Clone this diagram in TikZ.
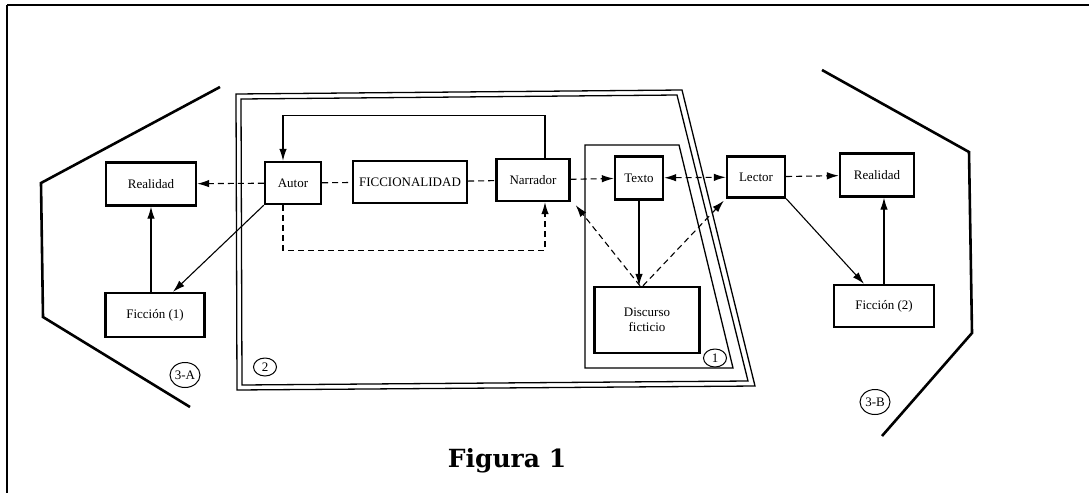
\documentclass[tikz,border=0pt]{standalone}
\usepackage{fontspec}
\setmainfont{Liberation Serif}
\newfontfamily\figfont{DejaVu Serif}
\usetikzlibrary{arrows.meta,shapes.geometric}

\begin{document}
\begin{tikzpicture}[x=1pt,y=-1pt,
  box/.style={draw,line width=2.4pt,font=\fontsize{13}{15}\selectfont,inner sep=2pt,align=center},
  link/.style={line width=1.1pt,-{Latex[length=12pt,width=7.5pt]}},
  dlink/.style={link,dash pattern=on 6pt off 4pt},
  dline/.style={line width=1.1pt,dash pattern=on 6pt off 4pt},
  zone/.style={line width=2.6pt,line join=miter},
  frame/.style={line width=1.3pt},
  tag/.style={draw,ellipse,line width=1pt,inner sep=0pt,minimum width=23pt,minimum height=18pt,font=\fontsize{13}{15}\selectfont},
  bigtag/.style={tag,minimum width=30pt,minimum height=25pt}
]
\useasboundingbox (0,0) rectangle (1089,493);

% page border
\draw[line width=2pt] (7,4.5) -- (1089,4.5);
\draw[line width=2pt] (7,4.5) -- (7,493);

% outer zones 3-A and 3-B
\draw[zone] (220,87) -- (41,183) -- (43,317) -- (190,407);
\draw[zone] (822,70) -- (969,152) -- (972,333) -- (882,436);

% zone 2: double-lined trapezoid
\draw[frame] (236,94) -- (682,90) -- (755,386) -- (237,390) -- cycle;
\draw[frame] (241,99) -- (677,95) -- (748,381) -- (242,385) -- cycle;

% zone 1
\draw[frame] (585,145) -- (679,145) -- (733,368) -- (585,368) -- cycle;

% boxes
\node[box,minimum width=90pt,minimum height=43pt] (real1) at (151,184) {Realidad};
\node[box,minimum width=99pt,minimum height=44pt] (fic1) at (155,315) {Ficción (1)};
\node[box,minimum width=56pt,minimum height=42pt] (autor) at (293,183) {Autor};
\node[box,minimum width=114pt,minimum height=42pt] (ficc) at (410,182) {FICCIONALIDAD};
\node[box,minimum width=73pt,minimum height=42pt] (narr) at (533,180) {Narrador};
\node[box,minimum width=48pt,minimum height=43pt] (texto) at (639,178) {Texto};
\node[box,minimum width=58pt,minimum height=41pt] (lector) at (756,177) {Lector};
\node[box,minimum width=74pt,minimum height=43pt] (real2) at (877,175) {Realidad};
\node[box,minimum width=100pt,minimum height=42pt] (fic2) at (884,306) {Ficción (2)};
\node[box,minimum width=105pt,minimum height=66pt] (disc) at (647,320) {Discurso\\ficticio};

% zone labels
\node[tag] (t1) at (715,358) {1};
\node[tag] (t2) at (265,367) {2};
\node[bigtag] (t3a) at (185,375) {3-A};
\node[bigtag] (t3b) at (875,402) {3-B};

% connectors
\draw[dlink] (autor) -- (real1);
\draw[dline] (autor) -- (ficc);
\draw[dline] (ficc) -- (narr);
\draw[dlink] (narr) -- (texto);
\draw[link] ([xshift=12pt]narr.north) -- ++(0,-42) -| ([xshift=-10pt]autor.north);
\draw[dlink] ([xshift=-10pt]autor.south) -- ++(0,45) -| ([xshift=12pt]narr.south);
\draw[link] (autor.south west) -- ([xshift=18pt]fic1.north);
\draw[link] (real1.south |- fic1.north) -- (real1.south);
\draw[dlink,{Latex[length=12pt,width=7.5pt]}-{Latex[length=12pt,width=7.5pt]}] (texto) -- (lector);
\draw[link] (texto.south) -- (texto.south |- disc.north);
\draw[dlink] ([xshift=-7pt]disc.north) -- ([xshift=5pt,yshift=-3pt]narr.south east);
\draw[dlink] ([xshift=-4pt]disc.north) -- ([xshift=-2pt,yshift=-2pt]lector.south west);
\draw[dlink] (lector) -- (real2);
\draw[link] (lector.south east) -- ([xshift=-20pt]fic2.north);
\draw[link] (fic2.north) -- (fic2.north |- real2.south);

% caption
\node[font=\figfont\bfseries\fontsize{25}{30}\selectfont] (fig) at (507,461) {Figura 1};
\end{tikzpicture}
\end{document}
